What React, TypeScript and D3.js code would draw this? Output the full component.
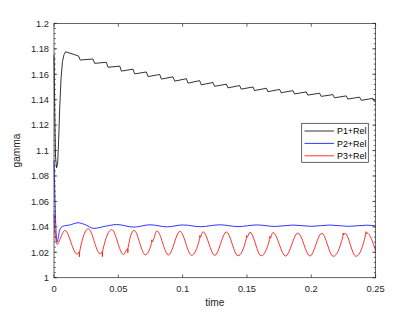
import React from 'react';
import * as d3 from 'd3';

// series values: [time, gamma]
const p1Data: [number, number][] = [
  [0, 1.175], [0.0006, 1.13], [0.0012, 1.095], [0.002, 1.0865], [0.0028, 1.089], [0.0036, 1.108],
  [0.0045, 1.135], [0.0055, 1.157], [0.0066, 1.17], [0.0078, 1.1755], [0.009, 1.1777],
  [0.019, 1.1744], [0.0204, 1.1712],
  [0.0303, 1.172], [0.0316, 1.1686],
  [0.0407, 1.1694], [0.042, 1.1655],
  [0.0511, 1.1664], [0.0524, 1.1625],
  [0.0614, 1.164], [0.0627, 1.1603],
  [0.0718, 1.1618], [0.0731, 1.1582],
  [0.0822, 1.1598], [0.0835, 1.1562],
  [0.0925, 1.158], [0.0938, 1.1546],
  [0.1029, 1.1565], [0.1042, 1.153],
  [0.1132, 1.155], [0.1145, 1.1517],
  [0.1236, 1.1535], [0.1248, 1.1505],
  [0.134, 1.1522], [0.1352, 1.1493],
  [0.1443, 1.1511], [0.1455, 1.1483],
  [0.1547, 1.15], [0.1559, 1.1472],
  [0.1651, 1.149], [0.1663, 1.1463],
  [0.1754, 1.1481], [0.1766, 1.1455],
  [0.1858, 1.1471], [0.187, 1.1445],
  [0.1961, 1.1461], [0.1973, 1.1436],
  [0.2065, 1.1451], [0.2077, 1.1426],
  [0.2168, 1.144], [0.218, 1.1415],
  [0.2272, 1.143], [0.2284, 1.1405],
  [0.2376, 1.142], [0.2388, 1.1395],
  [0.2479, 1.141], [0.249, 1.1386],
  [0.25, 1.139],
];

const p2Data: [number, number][] = [
  [0, 1.092], [0.0006, 1.068], [0.0012, 1.046], [0.0018, 1.033], [0.0024, 1.028], [0.0032, 1.031],
  [0.0042, 1.0365], [0.0055, 1.0395], [0.008, 1.0408], [0.012, 1.0414], [0.0186, 1.0432],
  [0.024, 1.0418], [0.031, 1.0388], [0.04, 1.0405], [0.0487, 1.0418], [0.062, 1.0398],
  [0.0746, 1.0416], [0.088, 1.04], [0.1002, 1.0415], [0.114, 1.0401], [0.1289, 1.0416],
  [0.143, 1.0402], [0.1577, 1.0415], [0.172, 1.0403], [0.1857, 1.0414], [0.2, 1.0404],
  [0.2145, 1.0414], [0.229, 1.0404], [0.2432, 1.0413], [0.25, 1.0407],
];

const p3Data: [number, number][] = [
  [0, 1.05], [0.0008, 1.036], [0.0018, 1.028], [0.0027, 1.0262], [0.0045, 1.03], [0.0085, 1.0372],
  [0.0179, 1.0185], [0.0196, 1.0203], [0.0198, 1.0165], [0.02, 1.0207],
  [0.0267, 1.0385], [0.0358, 1.0188], [0.0374, 1.0204], [0.0376, 1.0166], [0.0378, 1.0208],
  [0.0449, 1.0378], [0.054, 1.0182], [0.0572, 1.0228], [0.0574, 1.0196], [0.0576, 1.0236],
  [0.0622, 1.0372], [0.071, 1.018], [0.0758, 1.0272], [0.076, 1.0298], [0.0762, 1.0282],
  [0.08, 1.0368], [0.089, 1.0178], [0.0979, 1.0365], [0.107, 1.0176],
  [0.1132, 1.0308], [0.1134, 1.0332], [0.1136, 1.0316],
  [0.1158, 1.0362], [0.125, 1.0175], [0.134, 1.036], [0.143, 1.0172],
  [0.1495, 1.0308], [0.1497, 1.0332], [0.1499, 1.0316],
  [0.1523, 1.0358], [0.161, 1.0172],
  [0.1676, 1.0302], [0.1678, 1.0326], [0.168, 1.031],
  [0.1702, 1.0356], [0.18, 1.017], [0.1896, 1.0352], [0.199, 1.017], [0.2082, 1.035], [0.217, 1.0168],
  [0.2246, 1.0328], [0.2248, 1.0352], [0.225, 1.0336],
  [0.2261, 1.035], [0.2347, 1.0168],
  [0.2423, 1.0343], [0.2425, 1.0362], [0.2427, 1.0348],
  [0.2432, 1.0352], [0.25, 1.0212],
];

const xTicks = [0, 0.05, 0.1, 0.15, 0.2, 0.25];
const xTickLabels = ['0', '0.05', '0.1', '0.15', '0.2', '0.25'];
const yTicks = [1, 1.02, 1.04, 1.06, 1.08, 1.1, 1.12, 1.14, 1.16, 1.18, 1.2];
const yTickLabels = ['1', '1.02', '1.04', '1.06', '1.08', '1.1', '1.12', '1.14', '1.16', '1.18', '1.2'];
const seriesNames = ['P1+Rel', 'P2+Rel', 'P3+Rel'];
const seriesColors = ['#000000', '#0000ff', '#ff0000'];

const W = 415, H = 312;
const box = { left: 54, right: 375.6, top: 23.4, bottom: 277.7 };
const axisColor = '#262626';
const font = '"Liberation Sans", Arial, Helvetica, sans-serif';

export default function App() {
  const x = d3.scaleLinear().domain([0, 0.25]).range([box.left, box.right]);
  const y = d3.scaleLinear().domain([1, 1.2]).range([box.bottom, box.top]);

  const straight = d3.line<[number, number]>().x(d => x(d[0])).y(d => y(d[1]));
  const smooth = d3.line<[number, number]>().x(d => x(d[0])).y(d => y(d[1])).curve(d3.curveMonotoneX);

  // minor y ticks every 0.004 between the majors
  const yMinor = d3.range(0, 51).map(i => 1 + i * 0.004).filter(v => v <= 1.2001);

  const majorLen = 3.3, minorLen = 1.8;

  return (
    <svg width={W} height={H} style={{ position: 'absolute', left: 0, top: 0, background: '#fff' }}>
      <rect x={0} y={0} width={W} height={H} fill='#fff' />

      {/* curves */}
      <g fill='none' strokeWidth={0.8} strokeLinejoin='round'>
        <path d={straight(p1Data) || ''} stroke={seriesColors[0]} />
        <path d={smooth(p2Data) || ''} stroke={seriesColors[1]} />
        <path d={smooth(p3Data) || ''} stroke={seriesColors[2]} />
      </g>

      {/* axes box and ticks */}
      <g stroke={axisColor} strokeWidth={0.7} fill='none'>
        <rect x={box.left} y={box.top} width={box.right - box.left} height={box.bottom - box.top} />
        {xTicks.map(t => (
          <g key={`xt-${t}`}>
            <line x1={x(t)} x2={x(t)} y1={box.bottom} y2={box.bottom - majorLen} />
            <line x1={x(t)} x2={x(t)} y1={box.top} y2={box.top + majorLen} />
          </g>
        ))}
        {yTicks.map(t => (
          <g key={`yt-${t}`}>
            <line x1={box.left} x2={box.left + majorLen} y1={y(t)} y2={y(t)} />
            <line x1={box.right} x2={box.right - majorLen} y1={y(t)} y2={y(t)} />
          </g>
        ))}
        {yMinor.map(t => (
          <g key={`ym-${t}`}>
            <line x1={box.left} x2={box.left + minorLen} y1={y(t)} y2={y(t)} />
            <line x1={box.right} x2={box.right - minorLen} y1={y(t)} y2={y(t)} />
          </g>
        ))}
      </g>

      {/* tick labels */}
      <g fontFamily={font} fontSize={9.3} fill={axisColor}>
        {xTicks.map((t, i) => (
          <text key={`xl-${t}`} x={x(t)} y={box.bottom + 14} textAnchor='middle'>{xTickLabels[i]}</text>
        ))}
        {yTicks.map((t, i) => (
          <text key={`yl-${t}`} x={box.left - 5} y={y(t)} dy='0.35em' textAnchor='end'>{yTickLabels[i]}</text>
        ))}
      </g>

      {/* axis labels */}
      <g fontFamily={font} fontSize={10.2} fill={axisColor}>
        <text x={(box.left + box.right) / 2} y={306} textAnchor='middle'>time</text>
        <text transform={`translate(20,${(box.top + box.bottom) / 2}) rotate(-90)`} textAnchor='middle'>gamma</text>
      </g>

      {/* legend */}
      <g>
        <rect x={301.7} y={123.3} width={66.6} height={39} fill='#fff' stroke={axisColor} strokeWidth={0.7} />
        {seriesNames.map((name, i) => (
          <g key={name}>
            <line x1={304.5} x2={334} y1={131 + i * 12.4} y2={131 + i * 12.4} stroke={seriesColors[i]} strokeWidth={0.8} />
            <text x={337} y={131 + i * 12.4} dy='0.35em' fontFamily={font} fontSize={8.9} fill='#000'>{name}</text>
          </g>
        ))}
      </g>
    </svg>
  );
}
